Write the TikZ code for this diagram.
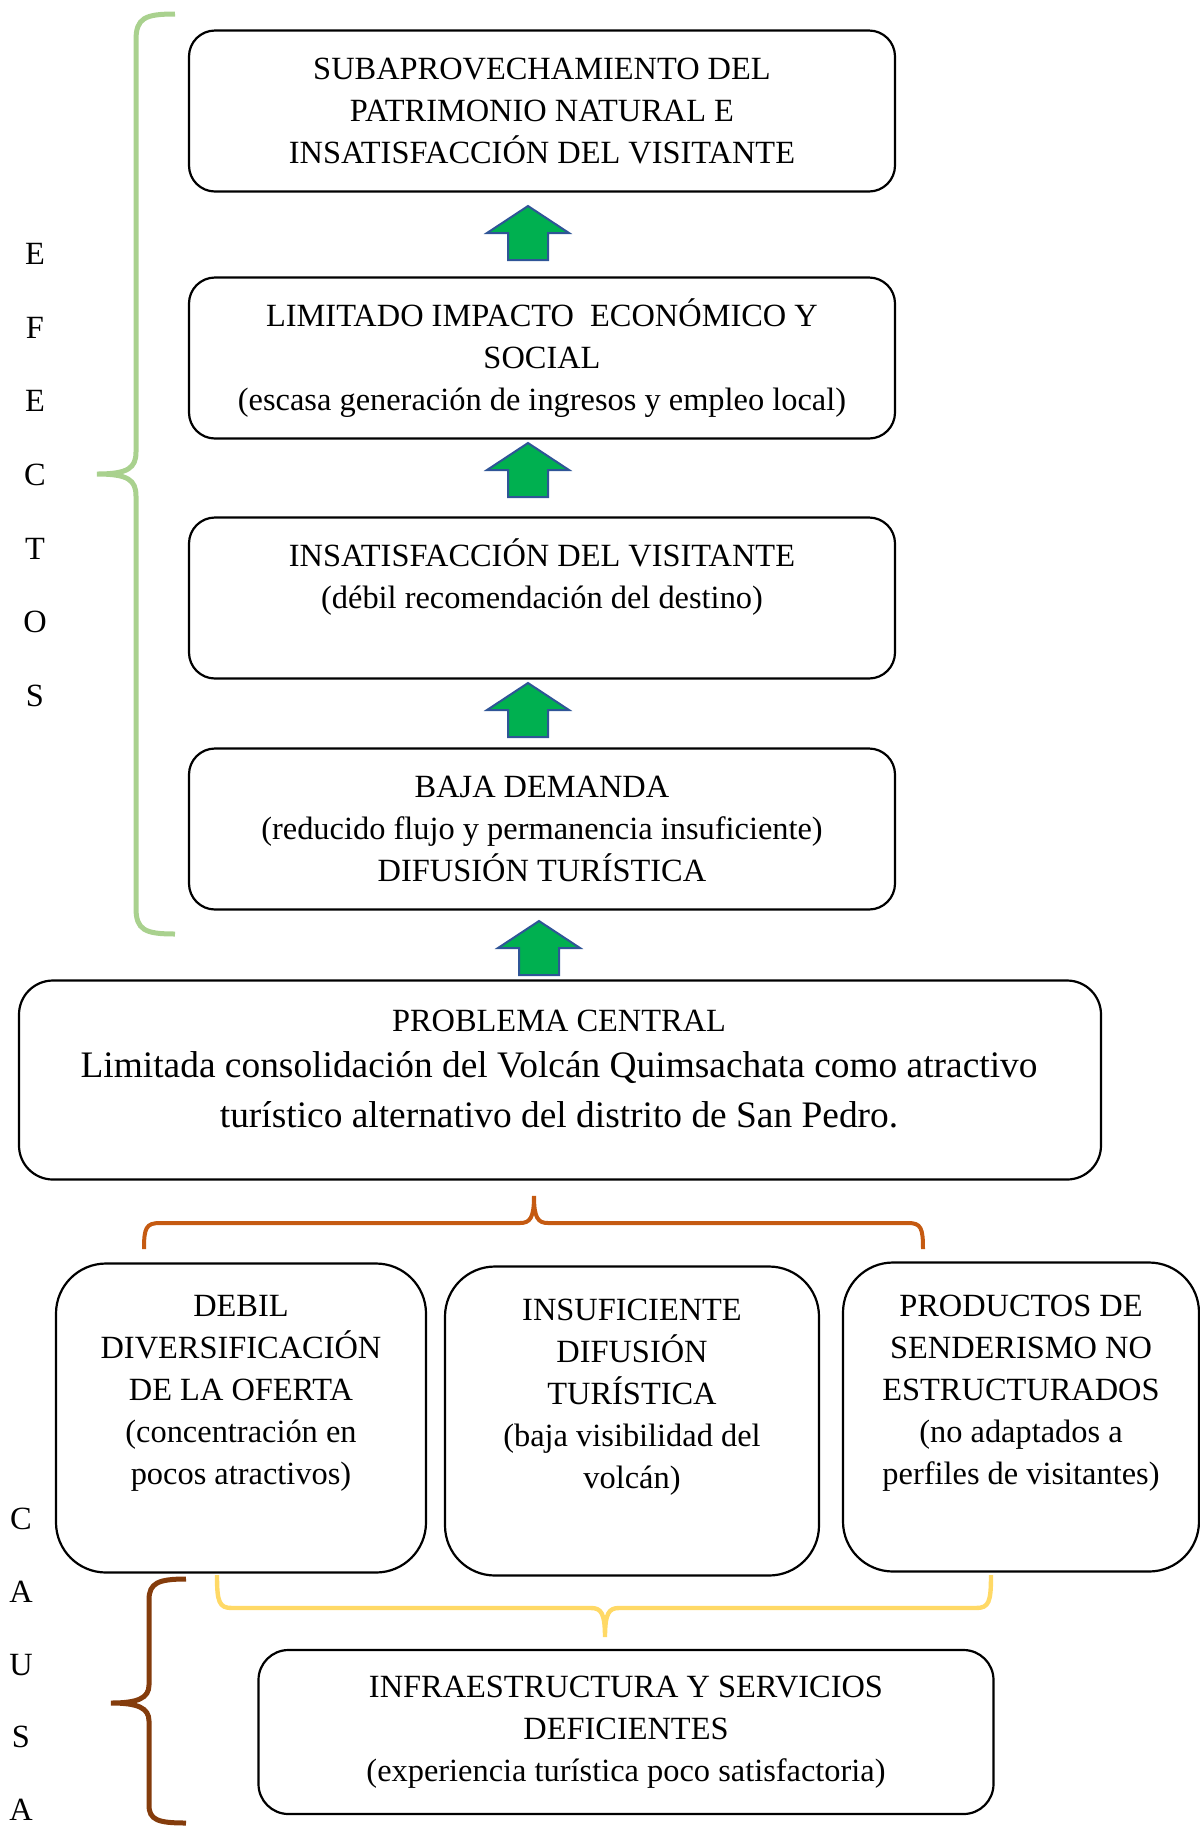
\documentclass[tikz,border=0pt]{standalone}
\usepackage{fontspec}
\setmainfont{Liberation Serif}
\usetikzlibrary{positioning,calc}
\definecolor{efectgreen}{RGB}{169,209,142}
\definecolor{causeorange}{RGB}{197,90,17}
\definecolor{causeyellow}{RGB}{255,217,102}
\definecolor{causebrown}{RGB}{132,60,12}
\definecolor{arrowgreen}{RGB}{0,176,80}
\definecolor{arrowblue}{RGB}{47,85,151}
\newcommand{\boxfont}{\fontsize{16.2}{21}\selectfont}
\newcommand{\bigfont}{\fontsize{18.7}{24.5}\selectfont}
\tikzset{
  effbox/.style={draw, line width=1.1pt, rounded corners=13pt, minimum width=353pt, minimum height=80.5pt, align=center, font=\boxfont},
  probbox/.style={draw, line width=1.1pt, rounded corners=17pt, minimum width=541pt, minimum height=99.5pt},
  causebox/.style={draw, line width=1.1pt, rounded corners=25pt, minimum height=154.5pt},
  infrabox/.style={draw, line width=1.1pt, rounded corners=15pt, minimum width=367.5pt, minimum height=82pt, align=center, font=\boxfont},
  boxtext/.style={align=center, font=\boxfont, inner sep=0pt},
  letter/.style={font=\boxfont, inner sep=0pt},
  blockarrow/.style={draw=arrowblue, fill=arrowgreen, line width=1pt, line join=miter},
  brace/.style={line width=#1, line cap=butt}
}

\begin{document}
\begin{tikzpicture}[x=0.5pt, y=-0.5pt]
    \useasboundingbox (0,0) rectangle (1200,1827);

    % Efectos
    \node[effbox] (ef1) at (542,111) {SUBAPROVECHAMIENTO DEL\\PATRIMONIO NATURAL E\\INSATISFACCIÓN DEL VISITANTE};
    \node[effbox] (ef2) at (542,358) {LIMITADO IMPACTO\ \ ECONÓMICO Y\\SOCIAL\\(escasa generación de ingresos y empleo local)};
    \node[effbox] (ef3) at (542,598) {};
    \node[boxtext] (ef3t) at (542,577) {INSATISFACCIÓN DEL VISITANTE\\(débil recomendación del destino)};
    \node[effbox] (ef4) at (542,829) {BAJA DEMANDA\\(reducido flujo y permanencia insuficiente)\\DIFUSIÓN TURÍSTICA};

    % Problema central
    \node[probbox] (prob) at (560,1080) {};
    \node[boxtext] (probt) at (559,1069) {PROBLEMA CENTRAL\\[2pt]{\bigfont Limitada consolidación del Volcán Quimsachata como atractivo}\\[4pt]{\bigfont turístico alternativo del distrito de San Pedro.}};

    % Causas
    \node[causebox, minimum width=185pt] (ca1) at (241,1418) {};
    \node[causebox, minimum width=187pt] (ca2) at (632,1421) {};
    \node[causebox, minimum width=178pt] (ca3) at (1021,1417) {};
    \node[boxtext] (ca1t) at (241,1393) {DEBIL\\DIVERSIFICACIÓN\\DE LA OFERTA\\(concentración en\\pocos atractivos)};
    \node[boxtext] (ca2t) at (632,1397) {INSUFICIENTE\\DIFUSIÓN\\TURÍSTICA\\(baja visibilidad del\\volcán)};
    \node[boxtext] (ca3t) at (1021,1393) {PRODUCTOS DE\\SENDERISMO NO\\ESTRUCTURADOS\\(no adaptados a\\perfiles de visitantes)};
    \node[infrabox] (infra) at (626,1732) {INFRAESTRUCTURA Y SERVICIOS\\DEFICIENTES\\(experiencia turística poco satisfactoria)};

    % Flechas hacia arriba
    \foreach \ax/\ay [count=\k] in {528/206, 528/443, 528/683, 539/921} {
        \coordinate (up\k) at (\ax,\ay);
        \draw[blockarrow] (up\k) -- ++(41,27) -- ++(-21,0) -- ++(0,27) -- ++(-40,0) -- ++(0,-27) -- ++(-21,0) -- cycle;
    }

    % Letras laterales
    \foreach \l [count=\i] in {E,F,E,C,T,O,S}
        \node[letter] (efl\i) at (35,{254+73.6*(\i-1)}) {\l};
    \foreach \l [count=\i] in {C,A,U,S,A}
        \node[letter] (cal\i) at (21,{1519+72.8*(\i-1)}) {\l};

    % Llaves
    \draw[efectgreen, brace=2.5pt] (175,14) .. controls (145,14) and (136,18) .. (136,40) -- (136,452) .. controls (136,468) and (128,474) .. (97,474) .. controls (128,474) and (136,480) .. (136,496) -- (136,908) .. controls (136,930) and (145,934) .. (175,934);
    \draw[causeorange, brace=2pt] (144,1249) .. controls (144,1228) and (146,1223) .. (160,1223) -- (520,1223) .. controls (530,1223) and (534,1218) .. (534,1196) .. controls (534,1218) and (538,1223) .. (548,1223) -- (908,1223) .. controls (921,1223) and (923,1228) .. (923,1249);
    \draw[causeyellow, brace=2.2pt] (217,1575) .. controls (217,1602) and (219,1608) .. (232,1608) -- (591,1608) .. controls (601,1608) and (605,1613) .. (605,1637) .. controls (605,1613) and (609,1608) .. (619,1608) -- (976,1608) .. controls (989,1608) and (991,1602) .. (991,1575);
    \draw[causebrown, brace=2.5pt] (186,1579) .. controls (158,1579) and (149,1583) .. (149,1600) -- (149,1685) .. controls (149,1698) and (138,1703) .. (111,1703) .. controls (138,1703) and (149,1708) .. (149,1721) -- (149,1805) .. controls (149,1820) and (158,1823) .. (186,1823);
\end{tikzpicture}
\end{document}
